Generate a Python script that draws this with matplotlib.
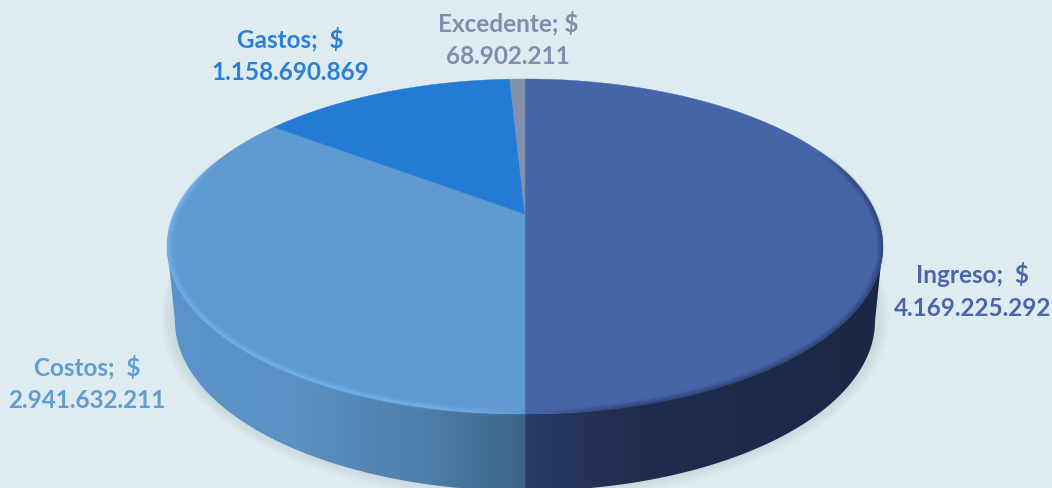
import numpy as np
import matplotlib
matplotlib.use('Agg')
import matplotlib.pyplot as plt
from matplotlib.collections import LineCollection
from matplotlib.colors import to_rgb
from matplotlib.patches import Polygon

# data
names = ['Ingreso', 'Costos', 'Gastos', 'Excedente']
values = [4169225292, 2941632211, 1158690869, 68902211]
separators = [';  $', ';  $', ';  $', '; $']

# styles
top_colors = ['#4664A8', '#5F9BD1', '#247BD5', '#8291AE']
text_colors = ['#4A66AC', '#629DD1', '#2A80D8', '#7D8FAD']
label_xy = [(973, 291), (87, 383), (290, 55), (508, 39)]
bg = '#DEEBF0'

# the disc is seen in perspective, so the centre is not the middle of the ellipse
cx, cy = 525.0, 215.0
ax_x, ax_y, k = 351.0, 161.2, 0.194
# bottom rim of the side wall
low_cy, low_a, low_b = 322.0, 350.0, 170.0


def project(theta, r=1.0):
    # theta clockwise from top, r radius on the unit disc
    u = r * np.sin(theta)
    v = -r * np.cos(theta)
    d = 1 - k * v
    return cx + ax_x * u / d, cy + ax_y * v / d


def wedge(start, end):
    t = np.linspace(start, end, 200)
    x, y = project(t)
    return np.column_stack((np.r_[cx, x], np.r_[cy, y]))


def rim(start, end, inset, color, lw, alpha):
    # line along the disc edge that fades out at both ends
    t = np.linspace(start, end, 200)
    x, y = project(t, 1 - inset)
    pts = np.column_stack((x, y))
    segs = np.stack((pts[:-1], pts[1:]), axis=1)
    fade = np.clip(np.sin(np.linspace(0, np.pi, len(segs))) * 3, 0, 1)
    cols = np.tile(to_rgb(color) + (alpha,), (len(segs), 1))
    cols[:, 3] *= fade
    ax.add_collection(LineCollection(segs, colors=cols, linewidths=lw, zorder=4,
                                     capstyle='butt'))


fig = plt.figure(figsize=(10.52, 4.89), dpi=100, facecolor=bg)
ax = fig.add_axes([0, 0, 1, 1])
ax.set_xlim(0, 1052)
ax.set_ylim(489, 0)
ax.axis('off')

# soft shadow under the wall
t = np.linspace(0, 2 * np.pi, 300)
for grow in [14, 11, 8, 5, 2]:
    sx = cx + (low_a + grow) * np.sin(t)
    sy = low_cy - 3 + (low_b + grow) * np.cos(t)
    ax.add_patch(Polygon(np.column_stack((sx, sy)), fc='#8A9CA6', ec='none',
                         alpha=0.05, zorder=1))

# side wall, silhouette from the widest points of the disc to the lower ellipse
t_all = np.linspace(0, 2 * np.pi, 2000)
x_all, _ = project(t_all)
t_right, t_left = t_all[np.argmax(x_all)], t_all[np.argmin(x_all)]
t_low = np.linspace(np.pi / 2, 3 * np.pi / 2, 300)
tx, ty = project(np.linspace(t_right, t_left, 300))
lx = cx + low_a * np.sin(t_low)
ly = low_cy - low_b * np.cos(t_low)
wall = np.column_stack((np.r_[tx, lx[::-1]], np.r_[ty, ly[::-1]]))
wall_patch = Polygon(wall, fc='none', ec='none', zorder=2)
ax.add_patch(wall_patch)

stops_x = [165, 300, 420, 524, 526, 640, 890]
stops_c = ['#5B94CC', '#5A90C2', '#4F7FAB', '#3B6487',
           '#2A3B68', '#202C4E', '#1B2744']
grad_x = np.arange(165, 890)
rgb = np.array([to_rgb(c) for c in stops_c])
grad = np.stack([np.interp(grad_x, stops_x, rgb[:, i]) for i in range(3)], axis=1)
img = ax.imshow(grad[None, :, :], extent=(165, 890, 500, 200), aspect='auto',
                zorder=2, interpolation='bilinear')
img.set_clip_path(wall_patch)
ax.set_xlim(0, 1052)
ax.set_ylim(489, 0)

# top wedges
fractions = np.array(values) / np.sum(values)
edges = np.r_[0, np.cumsum(fractions)] * 2 * np.pi
for i in range(len(values)):
    ax.add_patch(Polygon(wedge(edges[i], edges[i + 1]), fc=top_colors[i],
                         ec=top_colors[i], lw=0.3, zorder=3))

# bevel along the front edge of the disc
for lw, a, inset in [(5, 0.2, 0.006), (3, 0.4, 0.005), (1.5, 0.5, 0.003)]:
    rim(np.pi, np.pi * 1.62, inset, '#74B4F0', lw, a)
for lw, a, inset in [(5, 0.15, 0.006), (3, 0.3, 0.005), (1.5, 0.45, 0.002)]:
    rim(np.pi * 0.36, np.pi, inset, '#2A3B68', lw, a)

# labels
for name, sep, val, xy, col in zip(names, separators, values, label_xy, text_colors):
    amount = f'{val:,}'.replace(',', '.')
    ax.text(xy[0], xy[1], f'{name}{sep}\n{amount}', color=col, ha='center', va='center',
            fontsize=17.5, fontweight='bold', family='Lato', linespacing=1.5, zorder=5)

fig.savefig('out.png', dpi=100, facecolor=bg)
